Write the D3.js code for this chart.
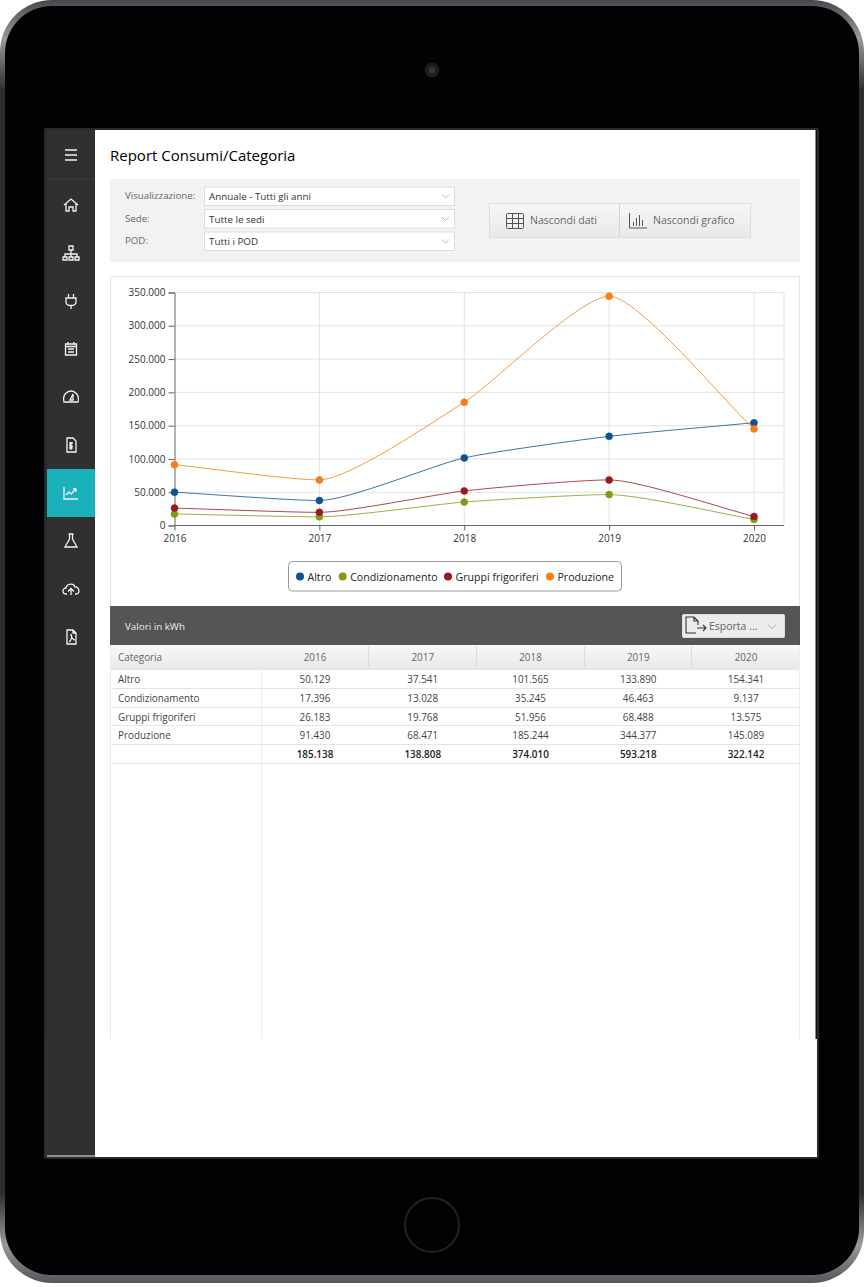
<!DOCTYPE html>
<html>
<head>
<meta charset="utf-8">
<title>Report Consumi/Categoria</title>
<script src="https://cdn.jsdelivr.net/npm/d3@7"></script>
<style>
  html, body { margin: 0; padding: 0; background: #fff; }
  svg { display: block; }
  text { font-family: "Open Sans", sans-serif; fill: #333; }
</style>
</head>
<body>
<svg id="page" width="864" height="1287"></svg>
<script>
const years = [2016, 2017, 2018, 2019, 2020];
const categories = ["Altro", "Condizionamento", "Gruppi frigoriferi", "Produzione"];
const altro = [50129, 37541, 101565, 133890, 154341];
const condizionamento = [17396, 13028, 35245, 46463, 9137];
const gruppi = [26183, 19768, 51956, 68488, 13575];
const produzione = [91430, 68471, 185244, 344377, 145089];
const totals = [185138, 138808, 374010, 593218, 322142];
const yTicks = [0, 50000, 100000, 150000, 200000, 250000, 300000, 350000];
const colors = ["#0b5394", "#7f9d14", "#9c1a1f", "#f57f17"];
const filters = [["Visualizzazione:", "Annuale - Tutti gli anni"], ["Sede:", "Tutte le sedi"], ["POD:", "Tutti i POD"]];

const series = [altro, condizionamento, gruppi, produzione];
const it = d3.formatLocale({ decimal: ",", thousands: ".", grouping: [3], currency: ["€", ""] });
const fmt = it.format(",d");
const svg = d3.select("#page");

function rect(parent, x, y, w, h, fill, stroke, rx) {
  return parent.append("rect").attr("x", x).attr("y", y).attr("width", w).attr("height", h)
    .attr("fill", fill).attr("stroke", stroke || "none").attr("rx", rx || 0);
}
function label(parent, x, y, str, size, color, anchor, weight) {
  return parent.append("text").attr("x", x).attr("y", y).text(str)
    .attr("font-size", size).style("fill", color || "#333")
    .attr("text-anchor", anchor || "start").attr("font-weight", weight || 400);
}
function hline(parent, x1, x2, y, color) {
  parent.append("line").attr("x1", x1).attr("x2", x2).attr("y1", y).attr("y2", y).attr("stroke", color);
}
function vline(parent, x, y1, y2, color) {
  parent.append("line").attr("x1", x).attr("x2", x).attr("y1", y1).attr("y2", y2).attr("stroke", color);
}

// smooth curve with short handles: flat at peaks, straight between them
function shortHandleCurve(context) {
  let pts = [];
  return {
    lineStart() { pts = []; },
    point(px, py) { pts.push([+px, +py]); },
    lineEnd() {
      const n = pts.length;
      const slope = pts.map((p, i) => {
        if (i === 0) return (pts[1][1] - p[1]) / (pts[1][0] - p[0]);
        if (i === n - 1) return (p[1] - pts[i - 1][1]) / (p[0] - pts[i - 1][0]);
        const a = (p[1] - pts[i - 1][1]) / (p[0] - pts[i - 1][0]);
        const b = (pts[i + 1][1] - p[1]) / (pts[i + 1][0] - p[0]);
        return a * b <= 0 ? 0 : (a + b) / 2;
      });
      context.moveTo(pts[0][0], pts[0][1]);
      for (let i = 1; i < n; i++) {
        const h = (pts[i][0] - pts[i - 1][0]) * 0.2;
        context.bezierCurveTo(
          pts[i - 1][0] + h, pts[i - 1][1] + slope[i - 1] * h,
          pts[i][0] - h, pts[i][1] - slope[i] * h,
          pts[i][0], pts[i][1]);
      }
    },
    areaStart() {},
    areaEnd() {}
  };
}

// device frame
const defs = svg.append("defs");
const rim = defs.append("linearGradient").attr("id", "rim").attr("x1", 0).attr("x2", 0).attr("y1", 0).attr("y2", 1);
[[0, "#48484c"], [0.03, "#9a9a9c"], [0.07, "#2e2e30"], [0.93, "#2e2e30"], [0.97, "#9a9a9c"], [1, "#55555a"]]
  .forEach(s => rim.append("stop").attr("offset", s[0]).attr("stop-color", s[1]));
const btn = defs.append("linearGradient").attr("id", "btn").attr("x1", 0).attr("x2", 0).attr("y1", 0).attr("y2", 1);
btn.append("stop").attr("offset", "0").attr("stop-color", "#f7f7f7");
btn.append("stop").attr("offset", "1").attr("stop-color", "#e9e9e9");

rect(svg, 0, 0, 864, 1283, "url(#rim)", null, 52);
rect(svg, 5, 6, 854, 1269, "#020204", null, 47);
svg.append("circle").attr("cx", 432).attr("cy", 70).attr("r", 7.500).attr("fill", "#1c1c1e");
svg.append("circle").attr("cx", 432).attr("cy", 70).attr("r", 3.500).attr("fill", "#34343a");
svg.append("circle").attr("cx", 432).attr("cy", 1225).attr("r", 27).attr("fill", "none").attr("stroke", "#222").attr("stroke-width", 2);

// screen
rect(svg, 44, 128, 775, 1031, "#2a2a2c", null, 2);
rect(svg, 47, 130, 48, 909, "#303030");
rect(svg, 45, 1039, 50, 117, "#303030");
rect(svg, 95, 130, 722, 1027, "#fff");
rect(svg, 815.500, 130, 1.500, 909, "#111");
hline(svg, 47, 95, 1156, "#eee");
hline(svg, 47, 95, 179, "#3a3a3a");

// sidebar
const side = svg.append("g");
rect(side, 47, 469, 48, 48, "#1bb1bb");
const icons = [
  [155, "M-6-5H6M-6 0H6M-6 5H6"],
  [205, "M-7 0L0-6L7 0M-5-1V6H-2V2H2V6H5V-1"],
  [253, "M-2-7H2V-3H-2ZM0-3V1M-6 4V1H6V4M0 1V4M-8 4H-4V7H-8ZM-2 4H2V7H-2ZM4 4H8V7H4Z"],
  [301, "M-2.500-7V-3M2.500-7V-3M-5-3H5V1C5 4 3 4.500 0 4.500C-3 4.500-5 4-5 1ZM0 4.500V8"],
  [349, "M-5.500-5H5.500V6H-5.500ZM-5.500-2.500H5.500M-3-7V-4M3-7V-4M-3 0H3M-3 3H3"],
  [397, "M-7 5C-9-3-3-6 0-6C3-6 9-3 7 5ZM-1 3L2-3L2 3Z"],
  [445, "M-4-7H2L5-4V7H-4ZM0-3V5M2-2H-1V1H1V3H-2"],
  [493, "M-7-6V6H7M-5 2L-2-1L0 1L5-4M2-4H5V-1"],
  [541, "M-2.500-7H2.500M-1.500-7V-2L-6 6H6L1.500-2V-7"],
  [589, "M-4 5H-5C-9 5-9-1-5-1C-4-6 3-6 4-2C8-3 10 5 5 5H4M0 6V0M-3 2.500L0-0.500L3 2.500"],
  [637, "M-4-7H2L5-4V7H-4ZM2-7V-4H5M-2 5C1 3 1-1 0-3C0 0 2 3 4 3"]
];
side.selectAll("path").data(icons).enter().append("path")
  .attr("transform", d => `translate(71,${d[0]})`)
  .attr("d", d => d[1])
  .attr("fill", "none")
  .attr("stroke", "#f2f2f2")
  .attr("stroke-width", 1.300);

// title and filter panel
label(svg, 110, 161, "Report Consumi/Categoria", 15, "#000", "start", 500);
rect(svg, 110, 179, 690, 83, "#f2f2f2");
const selY = [186.500, 209, 231.500];
filters.forEach((f, i) => {
  label(svg, 125, selY[i] + 12.500, f[0], 9.700, "#666");
  rect(svg, 204.500, selY[i] + 0.500, 250, 18.500, "#fff", "#ddd");
  label(svg, 209, selY[i] + 13.500, f[1], 9.800, "#333");
  svg.append("path").attr("d", `M442 ${selY[i] + 8}l3.500 3.500l3.500-3.500`).attr("fill", "none").attr("stroke", "#bbb");
});
rect(svg, 489.500, 203.500, 261, 34, "url(#btn)", "#ddd");
vline(svg, 619.500, 204, 237, "#d5d5d5");
label(svg, 530, 224, "Nascondi dati", 10.500, "#666");
label(svg, 653, 224, "Nascondi grafico", 10.500, "#666");
const tableIcon = svg.append("g").attr("fill", "none").attr("stroke", "#555");
tableIcon.append("rect").attr("x", 506.500).attr("y", 213.500).attr("width", 17).attr("height", 15).attr("rx", 1);
[512, 518].forEach(x => vline(tableIcon, x + 0.500, 214, 228, "#555"));
[218, 223].forEach(y => hline(tableIcon, 507, 523, y + 0.500, "#555"));
svg.append("path").attr("d", "M629.500 213V228H647M633.500 226V222M636.500 226V218M639.500 226V215M642.500 226V220").attr("fill", "none").attr("stroke", "#555");

// chart frame
rect(svg, 110.500, 276.500, 689, 330, "#fff", "#e4e4e4");

const x = d3.scalePoint().domain(years).range([174.500, 754]);
const y = d3.scaleLinear().domain([0, 350000]).range([525.500, 292.500]);
const right = 784;

const grid = svg.append("g");
grid.selectAll(".h").data(yTicks.slice(1)).enter().append("line")
  .attr("x1", 174).attr("x2", right).attr("y1", d => y(d)).attr("y2", d => y(d)).attr("stroke", "#e2e2e2");
grid.selectAll(".v").data(years.slice(1)).enter().append("line")
  .attr("x1", d => x(d)).attr("x2", d => x(d)).attr("y1", y(350000)).attr("y2", y(0)).attr("stroke", "#e2e2e2");
vline(grid, right, y(350000), y(0), "#e2e2e2");

const yAxis = svg.append("g").attr("transform", "translate(174.500,0)")
  .call(d3.axisLeft(y).tickValues(yTicks).tickFormat(fmt).tickSize(6).tickPadding(3));
const xAxis = svg.append("g").attr("transform", "translate(0,525.500)")
  .call(d3.axisBottom(x).tickSize(5).tickPadding(4));
xAxis.select(".domain").attr("d", `M174.500 0H${right}`);
[yAxis, xAxis].forEach(a => {
  a.select(".domain").attr("stroke", "#666");
  a.selectAll(".tick line").attr("stroke", "#666");
  a.selectAll("text").attr("font-size", 10).attr("font-family", "Open Sans").style("fill", "#333");
});

const line = d3.line().x((d, i) => x(years[i])).y(d => y(d)).curve(shortHandleCurve);
const plot = svg.append("g");
series.forEach((s, k) => {
  plot.append("path").attr("d", line(s)).attr("fill", "none").attr("stroke", colors[k]).attr("stroke-opacity", 0.8);
});
// markers go on in a separate pass, in the same order as the legend
series.forEach((s, k) => {
  plot.selectAll(".m" + k).data(s).enter().append("circle")
    .attr("cx", (d, i) => x(years[i])).attr("cy", d => y(d)).attr("r", 3.500)
    .attr("fill", colors[k]).attr("stroke", colors[k]).attr("stroke-opacity", 0.5);
});

// legend
rect(svg, 288.500, 561.500, 333, 29.500, "#fff", "#999", 4);
const legMarks = [300, 342.700, 448, 550];
categories.forEach((c, i) => {
  svg.append("circle").attr("cx", legMarks[i]).attr("cy", 576.500).attr("r", 4).attr("fill", colors[i]);
  label(svg, legMarks[i] + 7.500, 580.500, c, 10.600, "#222");
});

// table header band
rect(svg, 110, 606, 690, 39, "#555");
label(svg, 125, 630, "Valori in kWh", 9.800, "#eee");
rect(svg, 682.500, 614.500, 102, 23, "#ececec", "#ddd", 1);
svg.append("path").attr("d", "M696 633H686V617H694L698 621V625M694 617V621H698M697 628H706M703 625L706 628L703 631")
  .attr("fill", "none").attr("stroke", "#333").attr("stroke-width", 1.100);
label(svg, 709, 630, "Esporta ...", 10.500, "#666");
svg.append("path").attr("d", "M768 624.500l4 4l4-4").attr("fill", "none").attr("stroke", "#aaa");

// table
const colEdges = [110, 262, 368, 476, 584, 691, 800];
const rowY = [669, 688, 707, 725, 744, 763];
const colX = d3.scalePoint().domain(years).range([315, 746]);
rect(svg, 110.500, 645.500, 689, 23.500, "url(#btn)");
label(svg, 118, 661, "Categoria", 9.900, "#666");
years.forEach(yr => label(svg, colX(yr), 661, yr, 9.900, "#666", "middle"));
colEdges.slice(2, 6).forEach(e => vline(svg, e + 0.500, 646, 668, "#ddd"));
rowY.forEach(r => hline(svg, 110, 800, r + 0.500, "#e4e4e4"));
vline(svg, 110.500, 645, 1039, "#ececec");
vline(svg, 261.500, 669, 1039, "#ececec");
vline(svg, 799.500, 645, 1039, "#ececec");
categories.forEach((c, i) => {
  const base = rowY[i] + 14;
  label(svg, 118, base, c, 9.900, "#444");
  years.forEach((yr, j) => label(svg, colX(yr), base, fmt(series[i][j]), 9.900, "#444", "middle"));
});
years.forEach((yr, j) => label(svg, colX(yr), rowY[4] + 14, fmt(totals[j]), 9.900, "#222", "middle", 600));
</script>
</body>
</html>
